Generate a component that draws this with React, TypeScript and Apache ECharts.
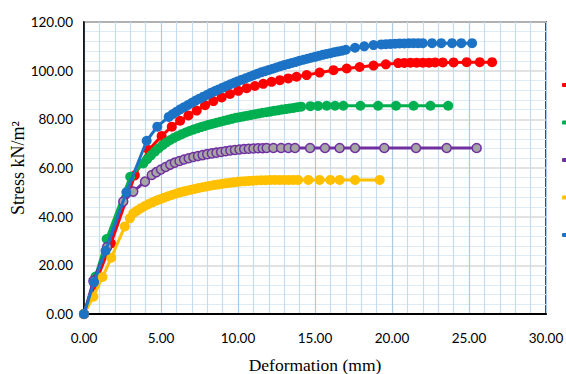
import React, { useEffect, useRef } from "react";
import * as echarts from "echarts";

const seriesNames = ["Series 1", "Series 2", "Series 3", "Series 4", "Series 5"];
const seriesColors = ["#FF0000", "#00B050", "#7030A0", "#FFC000", "#1C73C6"];

const redData: [number, number][] = [
  [0, 0], [0.7, 12], [1.75, 29], [3.3, 57], [4.2, 67.4], [5.04, 73.2], [5.7, 77.0],
  [6.24, 79.4], [6.78, 81.6], [7.32, 83.6], [7.86, 85.8], [8.4, 87.5], [8.94, 89.0],
  [9.48, 90.4], [10.02, 91.7], [10.56, 92.8], [11.1, 93.7], [11.64, 94.6], [12.18, 95.4],
  [12.72, 96.1], [13.26, 96.8], [13.8, 97.5], [14.46, 98.2], [15.3, 99.2], [16.2, 100.2],
  [17.06, 100.9], [17.9, 101.5], [18.8, 102.1], [19.6, 102.6], [20.4, 103.1], [20.8, 103.2],
  [21.2, 103.3], [21.6, 103.3], [22.0, 103.3], [22.4, 103.3], [22.8, 103.4], [23.3, 103.4],
  [24.0, 103.4], [24.85, 103.5], [25.7, 103.5], [26.5, 103.5],
];

const greenData: [number, number][] = [
  [0, 0], [0.75, 15.4], [1.47, 30.8], [3.0, 56.4], [3.85, 61.9], [4.1, 63.6], [4.35, 65.2],
  [4.6, 66.7], [4.85, 68.1], [5.1, 69.4], [5.35, 70.5], [5.6, 71.5], [5.85, 72.4], [6.1, 73.2],
  [6.35, 73.9], [6.6, 74.6], [6.85, 75.2], [7.1, 75.8], [7.35, 76.3], [7.6, 76.8], [7.85, 77.3],
  [8.1, 77.8], [8.35, 78.2], [8.6, 78.6], [8.85, 79.0], [9.1, 79.4], [9.35, 79.8], [9.6, 80.2],
  [9.85, 80.6], [10.1, 80.9], [10.35, 81.2], [10.6, 81.5], [10.85, 81.8], [11.1, 82.1],
  [11.35, 82.4], [11.6, 82.7], [11.85, 82.9], [12.1, 83.2], [12.35, 83.5], [12.6, 83.7],
  [12.85, 84.0], [13.1, 84.2], [13.35, 84.5], [13.6, 84.7], [13.85, 85.0], [14.1, 85.2],
  [14.7, 85.4], [15.2, 85.5], [15.76, 85.6], [16.3, 85.6], [16.84, 85.6], [17.95, 85.6],
  [19.1, 85.6], [20.26, 85.6], [21.4, 85.6], [22.5, 85.6], [23.65, 85.6],
];

const purpleData: [number, number][] = [
  [0, 0], [0.61, 13.6], [1.5, 27.5], [2.55, 46.2], [3.2, 50.3], [3.96, 54.4], [4.4, 57.1],
  [4.7, 58.3], [5.0, 59.4], [5.3, 60.4], [5.6, 61.4], [5.9, 62.2], [6.2, 62.9], [6.5, 63.5],
  [6.8, 64.0], [7.1, 64.5], [7.4, 64.9], [7.7, 65.3], [8.0, 65.7], [8.3, 66.0], [8.6, 66.3],
  [8.9, 66.6], [9.2, 66.9], [9.5, 67.2], [9.8, 67.4], [10.1, 67.6], [10.4, 67.8], [10.7, 67.9],
  [11.0, 68.0], [11.3, 68.1], [11.6, 68.1], [11.86, 68.2], [12.3, 68.2], [12.8, 68.2],
  [13.27, 68.2], [13.7, 68.2], [14.68, 68.2], [15.65, 68.2], [16.6, 68.2], [17.6, 68.2],
  [19.5, 68.2], [21.56, 68.2], [23.55, 68.2], [25.5, 68.2],
];

const yellowData: [number, number][] = [
  [0, 0], [0.61, 7.1], [1.2, 15.2], [1.77, 23.1], [2.65, 36.0], [2.98, 39.3], [3.2, 41.4],
  [3.45, 42.5], [3.7, 43.5], [3.95, 44.4], [4.2, 45.2], [4.45, 45.9], [4.7, 46.6], [4.95, 47.2],
  [5.2, 47.8], [5.45, 48.4], [5.7, 48.9], [5.95, 49.4], [6.2, 49.9], [6.45, 50.3], [6.7, 50.7],
  [6.95, 51.1], [7.2, 51.4], [7.45, 51.8], [7.7, 52.1], [7.95, 52.4], [8.2, 52.7], [8.45, 53.0],
  [8.7, 53.2], [8.95, 53.5], [9.2, 53.7], [9.45, 53.9], [9.7, 54.1], [9.95, 54.3], [10.2, 54.5],
  [10.45, 54.6], [10.7, 54.7], [10.95, 54.8], [11.2, 54.9], [11.5, 55.0], [11.8, 55.0],
  [12.1, 55.1], [12.4, 55.1], [12.7, 55.1], [13.0, 55.1], [13.3, 55.1], [13.6, 55.1],
  [13.9, 55.1], [14.57, 55.1], [15.3, 55.1], [16.0, 55.1], [16.6, 55.1], [17.6, 55.1],
  [19.2, 55.1],
];

const blueData: [number, number][] = [
  [0, 0], [0.65, 13.0], [1.4, 26.0], [2.75, 50.0], [4.07, 71.2], [4.76, 77.0], [5.5, 81.0],
  [5.75, 82.1], [6.0, 83.1], [6.25, 84.1], [6.5, 85.0], [6.75, 85.9], [7.0, 86.8], [7.25, 87.7],
  [7.5, 88.5], [7.75, 89.3], [8.0, 90.1], [8.25, 90.9], [8.5, 91.6], [8.75, 92.3], [9.0, 93.0],
  [9.25, 93.7], [9.5, 94.4], [9.75, 95.0], [10.0, 95.7], [10.25, 96.3], [10.5, 96.9],
  [10.75, 97.5], [11.0, 98.1], [11.25, 98.7], [11.5, 99.3], [11.75, 99.8], [12.0, 100.3],
  [12.25, 100.8], [12.5, 101.3], [12.75, 101.8], [13.0, 102.3], [13.25, 102.7], [13.5, 103.2],
  [13.75, 103.6], [14.0, 104.1], [14.25, 104.5], [14.5, 104.9], [14.75, 105.3], [15.0, 105.7],
  [15.25, 106.1], [15.5, 106.5], [15.75, 106.9], [16.0, 107.2], [16.25, 107.6], [16.5, 107.9],
  [16.75, 108.2], [17.0, 108.6], [17.6, 109.4], [18.2, 110.0], [18.8, 110.5], [19.3, 110.8],
  [19.6, 110.9], [19.9, 111.0], [20.2, 111.1], [20.5, 111.2], [20.8, 111.2], [21.1, 111.3],
  [21.4, 111.3], [21.7, 111.3], [22.0, 111.3], [22.6, 111.3], [23.2, 111.3], [23.9, 111.3],
  [24.5, 111.3], [25.2, 111.3],
];

const allData = [redData, greenData, purpleData, yellowData, blueData];

const xMin = 0;
const xMax = 30;
const xStep = 5;
const yMin = 0;
const yMax = 120;
const yStep = 20;

const xTitle = "Deformation (mm)";
const yTitle = "Stress kN/m\u00B2";

export default function App() {
  const ref = useRef<HTMLDivElement>(null);

  useEffect(() => {
    if (!ref.current) return;
    const chart = echarts.init(ref.current, undefined, { renderer: "svg" });
    const tickFont = { fontFamily: "Lato", fontSize: 13.5, color: "#000" };
    const series = allData.map((data, i) => {
      const isPurple = i === 2;
      return {
        name: seriesNames[i],
        type: "line",
        data,
        symbol: "circle",
        symbolSize: isPurple ? 9 : 10,
        showSymbol: true,
        clip: false,
        lineStyle: { width: 3, color: seriesColors[i] },
        itemStyle: isPurple
          ? { color: "#A5A5A5", borderColor: seriesColors[i], borderWidth: 1.5 }
          : { color: seriesColors[i], borderWidth: 0 },
        emphasis: { disabled: true },
        z: 2 + i,
      };
    });
    chart.setOption({
      animation: false,
      backgroundColor: "#fff",
      grid: {
        left: 84,
        right: 20,
        top: 22,
        bottom: 60,
        containLabel: false,
        outerBoundsMode: "none",
        show: true,
        borderColor: "#000",
        borderWidth: 1.5,
        backgroundColor: "transparent",
      },
      legend: {
        orient: "vertical",
        left: 557,
        top: 78,
        itemWidth: 9,
        itemHeight: 4,
        itemGap: 33.5,
        icon: "roundRect",
        formatter: () => "",
        textStyle: { fontSize: 1 },
        selectedMode: false,
        data: seriesNames.map((n, i) => ({ name: n, itemStyle: { color: seriesColors[i], borderWidth: 0 } })),
      },
      xAxis: {
        type: "value",
        min: xMin,
        max: xMax,
        interval: xStep,
        name: xTitle,
        nameLocation: "middle",
        nameGap: 42,
        nameMoveOverlap: false,
        nameTextStyle: { fontFamily: "Liberation Serif", fontSize: 17.5, lineHeight: 17, color: "#000" },
        axisLine: { show: true, onZero: false, lineStyle: { color: "#000", width: 2 } },
        axisTick: { show: false },
        axisLabel: { ...tickFont, margin: 17, formatter: (v: number) => v.toFixed(2) },
        splitLine: { show: true, lineStyle: { color: "#A9CBE8", width: 1.2 } },
        minorTick: { show: false, splitNumber: 5 },
        minorSplitLine: { show: true, lineStyle: { color: "#C6DCF0", width: 1.2 } },
      },
      yAxis: {
        type: "value",
        min: yMin,
        max: yMax,
        interval: yStep,
        name: yTitle,
        nameLocation: "middle",
        nameGap: 57,
        nameMoveOverlap: false,
        nameTextStyle: { fontFamily: "Liberation Serif", fontSize: 18, lineHeight: 18, color: "#000" },
        axisLine: { show: true, onZero: false, lineStyle: { color: "#000", width: 1.5 } },
        axisTick: { show: false },
        axisLabel: { ...tickFont, margin: 11, formatter: (v: number) => v.toFixed(2) },
        splitLine: { show: true, lineStyle: { color: "#D9D9D9", width: 1.5 } },
        minorTick: { show: false, splitNumber: 5 },
        minorSplitLine: { show: true, lineStyle: { color: "#DDEBF7", width: 1.2 } },
      },
      series,
    });
    return () => chart.dispose();
  }, []);

  return <div ref={ref} style={{ width: 566, height: 374, position: "absolute", left: 0, top: 0 }} />;
}
